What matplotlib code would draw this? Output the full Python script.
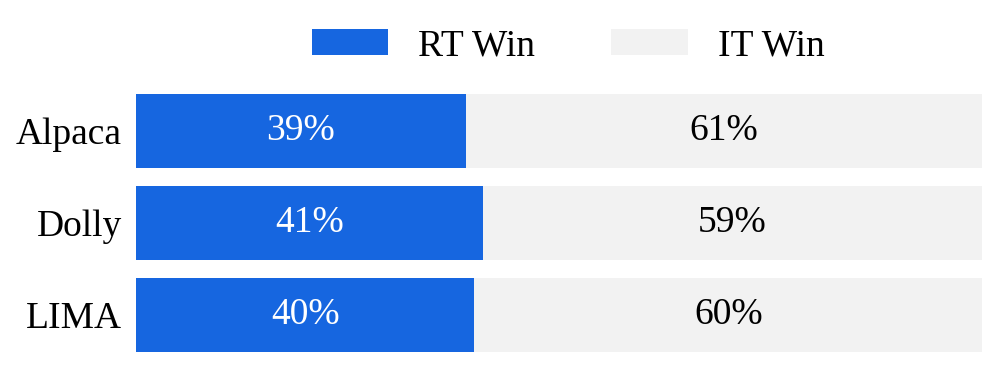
import matplotlib
matplotlib.use("Agg")
import matplotlib.pyplot as plt
import numpy as np

models = ["Alpaca", "Dolly", "LIMA"]
rt_win = [39, 41, 40]
it_win = [61, 59, 60]

plt.rcParams["font.family"] = ["Liberation Serif", "DejaVu Serif"]
FS = 27
BLUE = "#1666E0"
GRAY = "#F2F2F2"

fig = plt.figure(figsize=(9.97, 3.8), dpi=100)
ax = fig.add_axes([136 / 997, 28 / 380, (982 - 136) / 997, (352 - 94) / 380])

y = np.arange(len(models))
b1 = ax.barh(y, rt_win, height=0.8, color=BLUE, label="RT Win")
b2 = ax.barh(y, it_win, left=rt_win, height=0.8, color=GRAY, label="IT Win")

for i in range(len(models)):
    ax.text(rt_win[i] / 2, y[i], f"{rt_win[i]}%", ha="center", va="center",
            color="white", fontsize=FS)
    ax.text(rt_win[i] + it_win[i] / 2, y[i], f"{it_win[i]}%", ha="center",
            va="center", color="black", fontsize=FS)

ax.set_xlim(0, 100)
ax.set_ylim(2.4, -0.4)
ax.set_yticks(y)
ax.set_yticklabels(models, fontsize=FS)
ax.tick_params(axis="y", length=0, pad=10)
ax.set_xticks([])
for s in ax.spines.values():
    s.set_visible(False)

fig.legend(handles=[b1, b2], loc="center", bbox_to_anchor=(0.57, 0.878),
           ncol=2, frameon=False, fontsize=FS, handlelength=2.03,
           handleheight=0.69, handletextpad=0.8, columnspacing=2.03)

fig.savefig("out.png", dpi=100)
